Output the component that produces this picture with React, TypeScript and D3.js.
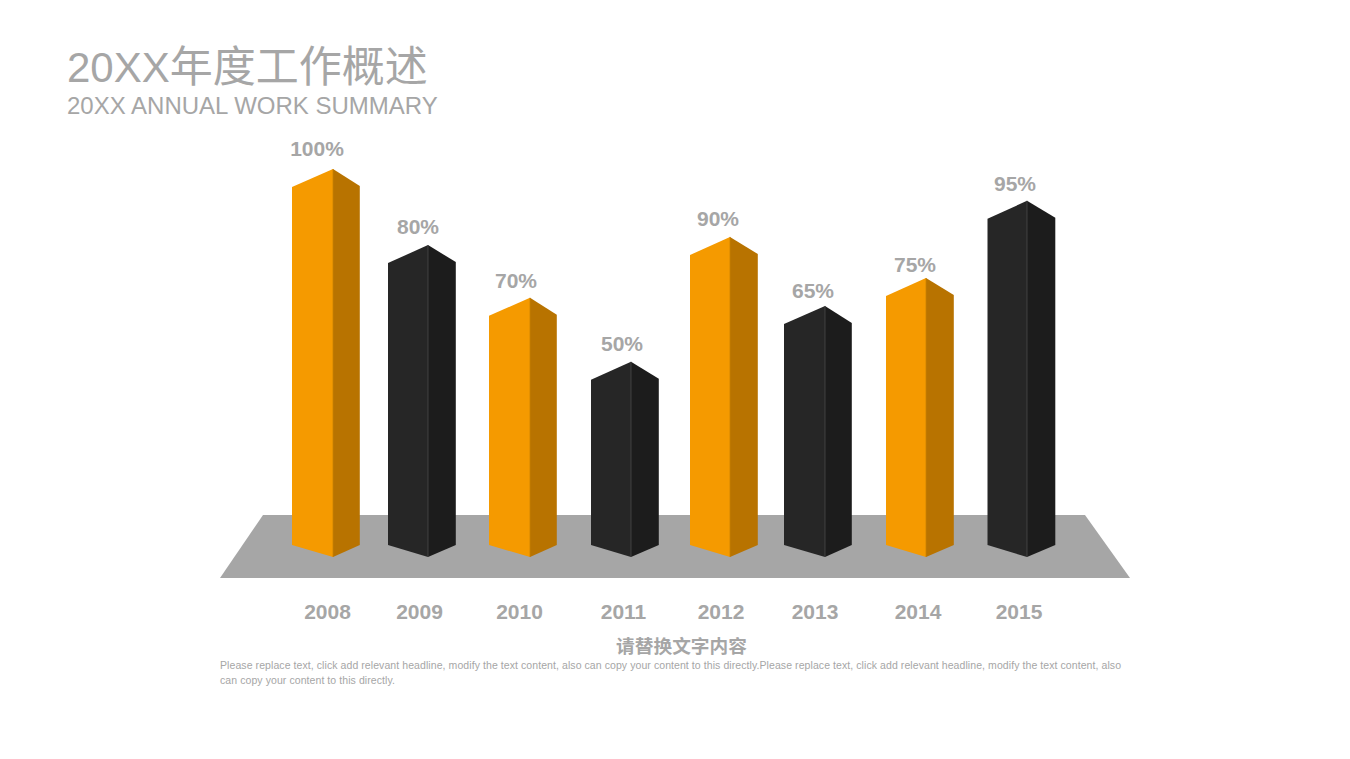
import React from "react";
import * as d3 from "d3";

const categories = ["2008", "2009", "2010", "2011", "2012", "2013", "2014", "2015"];
const valueLabels = ["100%", "80%", "70%", "50%", "90%", "65%", "75%", "95%"];
// Drawn column heights (the source columns do not follow their labels exactly)
const drawnLevels = [100, 80.4, 66.8, 50.3, 82.5, 64.7, 71.9, 91.8];
const seriesKinds = ["orange", "black", "orange", "black", "orange", "black", "orange", "black"];

const LEFT_EDGES = [292, 388, 489, 591, 690, 784, 886, 987.5];
const APEX_XS = [333, 428, 530, 631, 730, 825, 926, 1027];
const LABEL_CENTERS = [317, 418, 516, 622, 718, 813, 915, 1015];
const LABEL_GAPS = [13, 11, 10, 11, 11, 8, 6, 10];
const YEAR_CENTERS = [327.5, 419.5, 519.5, 623.5, 721, 815, 918, 1019];

const xLeft = d3.scaleOrdinal<string, number>().domain(categories).range(LEFT_EDGES);
const xApex = d3.scaleOrdinal<string, number>().domain(categories).range(APEX_XS);
const xLabel = d3.scaleOrdinal<string, number>().domain(categories).range(LABEL_CENTERS);
const labelGap = d3.scaleOrdinal<string, number>().domain(categories).range(LABEL_GAPS);
const xYear = d3.scaleOrdinal<string, number>().domain(categories).range(YEAR_CENTERS);
const y = d3.scaleLinear().domain([0, 100]).range([557, 169]);

const COLORS: Record<string, { front: string; side: string; edge: string }> = {
  orange: { front: "#F59A00", side: "#B87300", edge: "#C98000" },
  black: { front: "#262626", side: "#1C1C1C", edge: "#4A4A4A" },
};
const GREY = "#A6A6A6";
const SANS = "'Liberation Sans', Arial, 'Noto Sans CJK SC', sans-serif";
const line = d3.line();

export default function App() {
  return (
    <svg width={1350} height={759} style={{ position: "absolute", left: 0, top: 0, display: "block", background: "#fff" }} fontFamily={SANS}>
      <text x={67} y={82} fill={GREY}>
        <tspan fontSize={42}>20XX</tspan>
        <tspan fontSize={43}>年度工作概述</tspan>
      </text>
      <text x={67} y={114} fontSize={24} fill={GREY}>20XX ANNUAL WORK SUMMARY</text>

      <path d={line([[263, 515], [1085, 515], [1130, 578], [220, 578]]) + "Z"} fill={GREY} />

      {categories.map((c, i) => {
        const col = COLORS[seriesKinds[i]];
        const l = xLeft(c);
        const apexX = xApex(c);
        const r = l + 67.8;
        const top = y(drawnLevels[i]);
        const base = y(0);
        return (
          <g key={c}>
            <path d={line([[l, top + 18], [apexX, top], [apexX, base], [l, base - 12]]) + "Z"} fill={col.front} />
            <path d={line([[apexX, top], [r, top + 17], [r, base - 12], [apexX, base]]) + "Z"} fill={col.side} />
            <path d={line([[apexX, top], [apexX, base]]) ?? ""} stroke={col.edge} strokeWidth={0.8} fill="none" />
            <text x={xLabel(c)} y={top - labelGap(c)} textAnchor="middle" fontSize={21} fontWeight="bold" fill={GREY}>{valueLabels[i]}</text>
            <text x={xYear(c)} y={619} textAnchor="middle" fontSize={21} fontWeight="bold" fill={GREY}>{c}</text>
          </g>
        );
      })}

      <text x={681.5} y={653} textAnchor="middle" fontSize={18.7} fontWeight="bold" fill={GREY}>请替换文字内容</text>
      <text x={220} y={669} fontSize={10.5} fill={GREY} textLength={901} lengthAdjust="spacing">Please replace text, click add relevant headline, modify the text content, also can copy your content to this directly.Please replace text, click add relevant headline, modify the text content, also</text>
      <text x={220} y={684} fontSize={10.5} fill={GREY} textLength={175} lengthAdjust="spacing">can copy your content to this directly.</text>
    </svg>
  );
}
